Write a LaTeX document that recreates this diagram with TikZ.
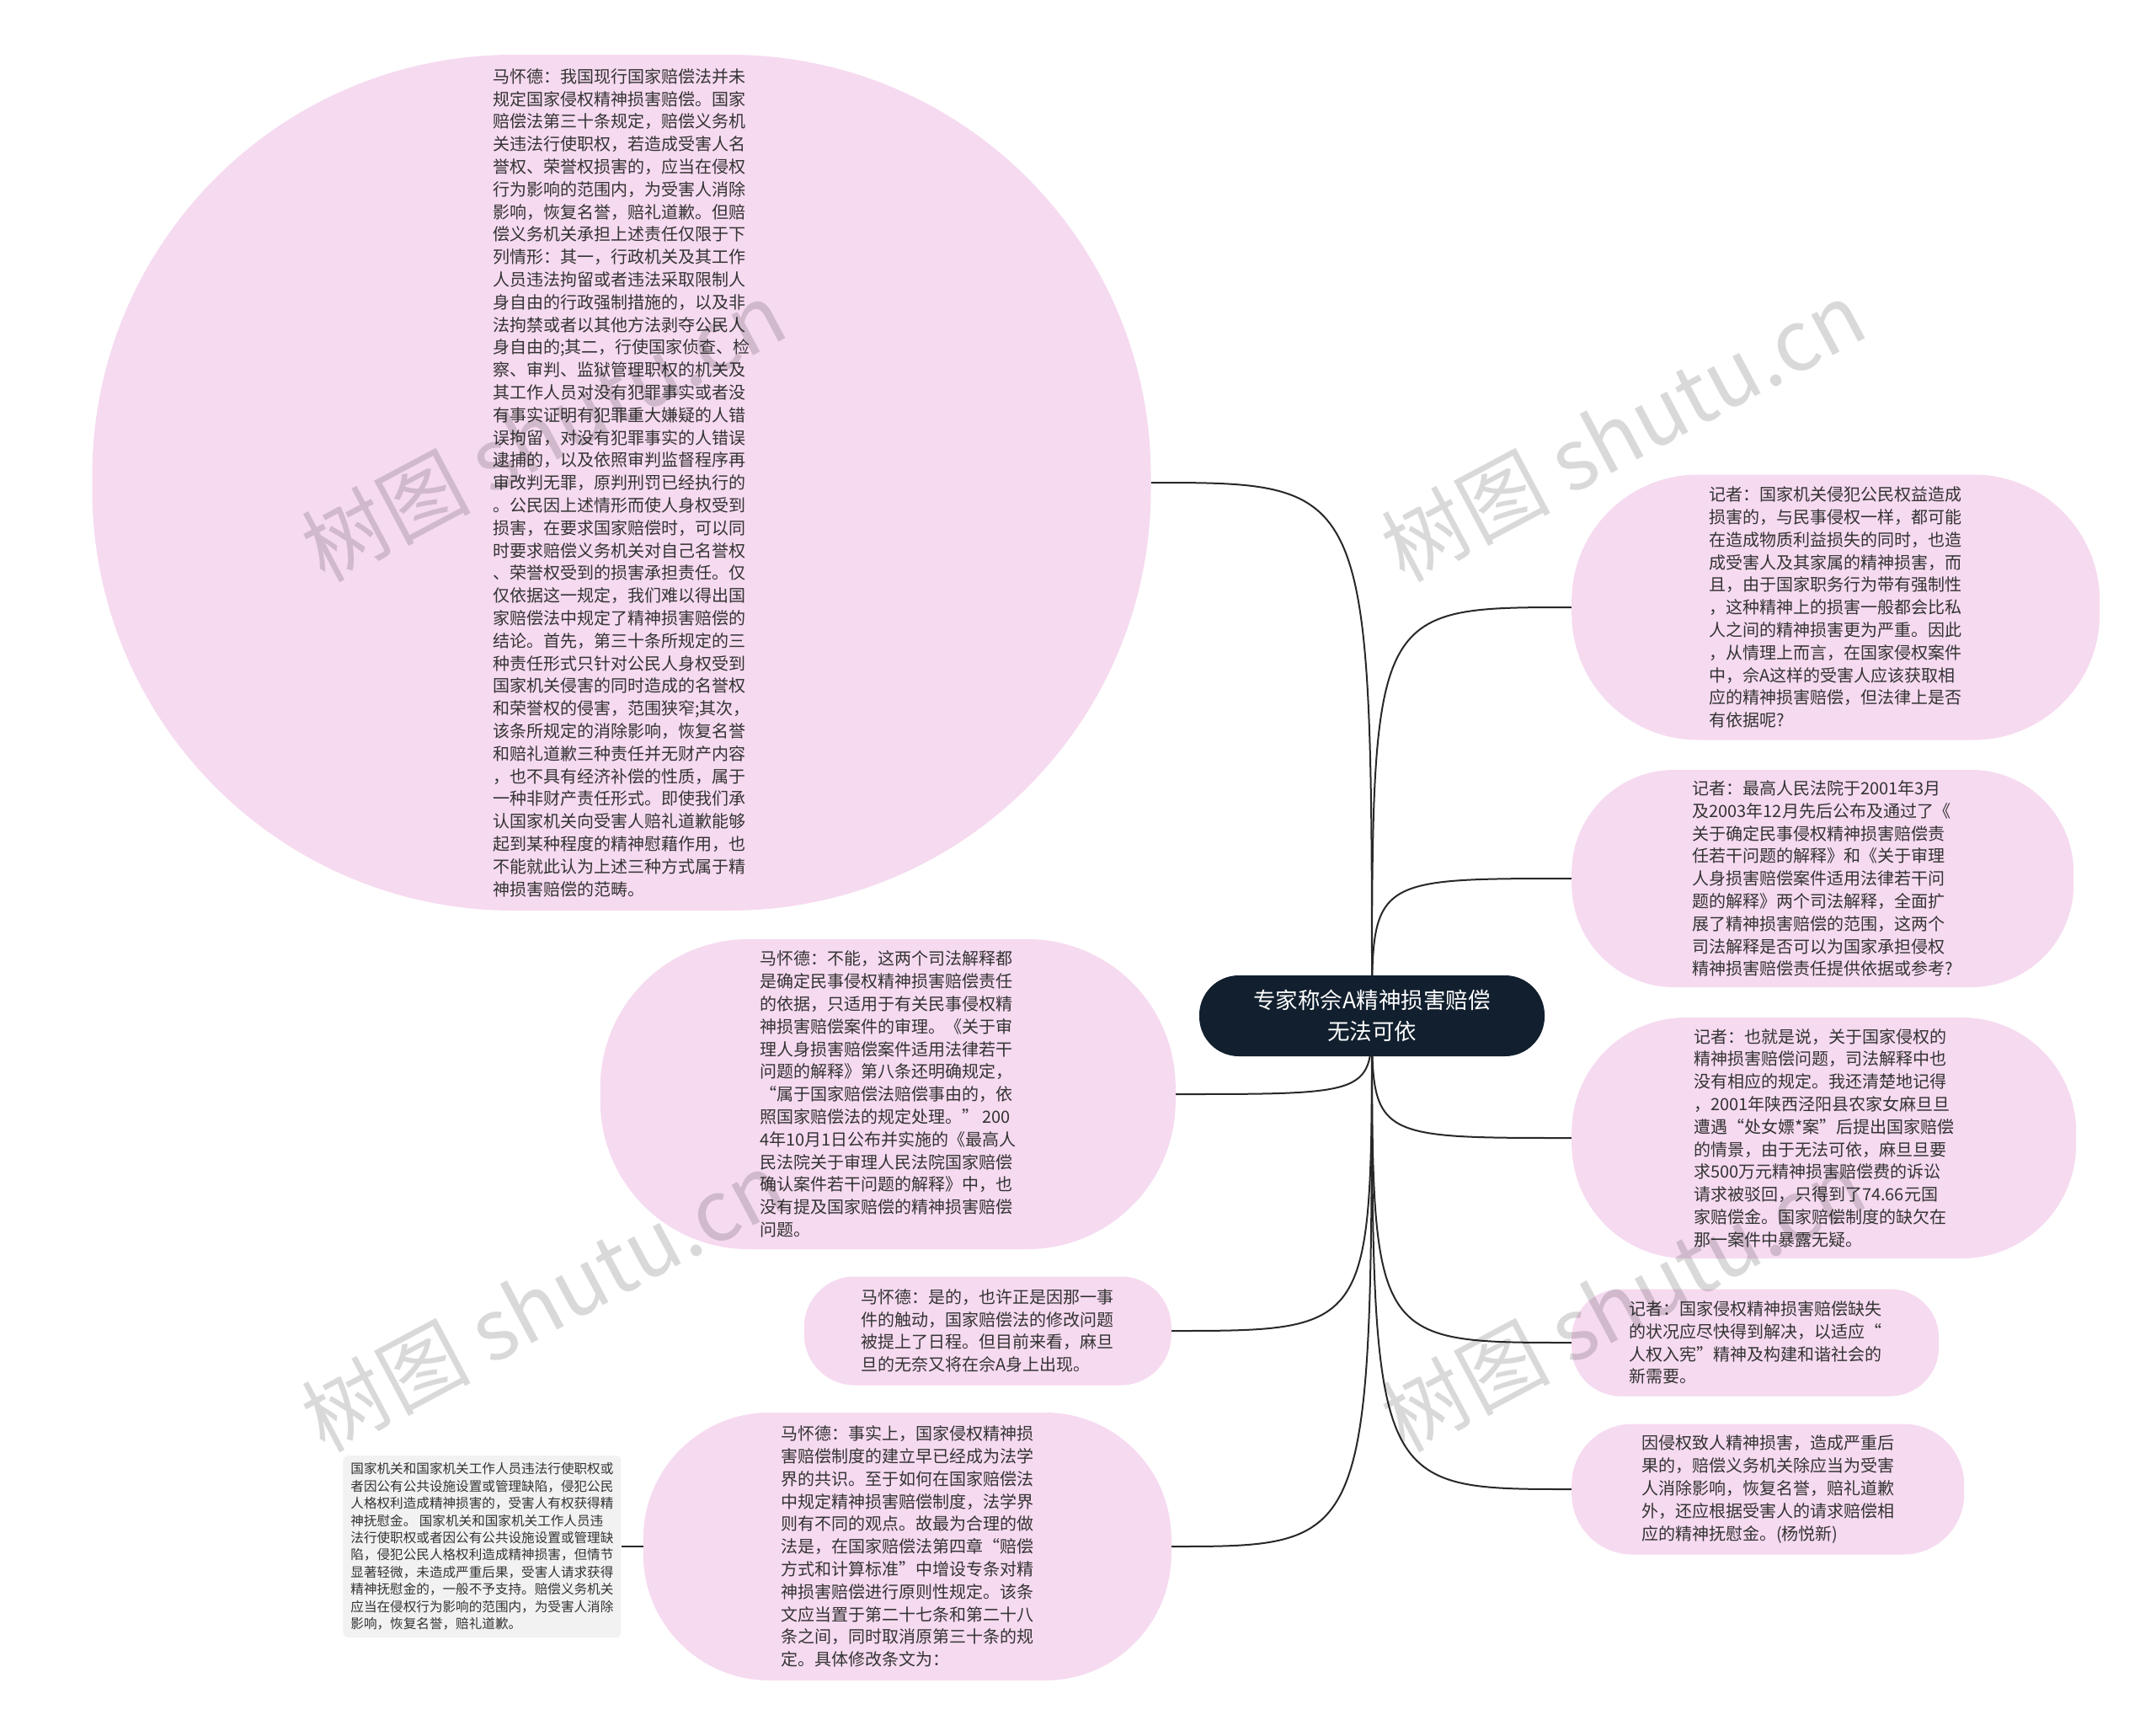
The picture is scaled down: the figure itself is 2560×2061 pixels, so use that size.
\documentclass[tikz,border=0pt]{standalone}
\usepackage{fontspec}
\newfontfamily\cjk{Noto Sans CJK SC}
\usetikzlibrary{positioning,backgrounds}
\definecolor{hubnavy}{RGB}{17,31,46}
\definecolor{leafpink}{RGB}{246,218,240}
\definecolor{notegrey}{RGB}{242,242,242}
\definecolor{inkgrey}{RGB}{51,51,51}
\definecolor{wirecol}{RGB}{40,40,40}

\begin{document}
\begin{tikzpicture}[
   x=1pt, y=-1pt,
   hub/.style={fill=hubnavy, text=white, rounded corners=47pt, align=center,
      minimum width=410pt, minimum height=96pt, inner sep=0pt,
      font=\cjk\fontsize{26.5}{37}\selectfont},
   leaf/.style={fill=leafpink, text=inkgrey, align=left, inner sep=0pt,
      font=\cjk\fontsize{20}{26.8}\selectfont},
   note/.style={fill=notegrey, text=inkgrey, align=left, inner sep=0pt,
      rounded corners=6pt, minimum width=330pt, minimum height=216pt,
      font=\cjk\fontsize{15.6}{20.4}\selectfont},
   branch/.style={draw=wirecol, line width=2pt},
   wmark/.style={text=black, opacity=0.15, rotate=28,
      font=\cjk\fontsize{100}{100}\selectfont}
]
\useasboundingbox (0,0) rectangle (2560,2061);

\node[hub] (hub) at (1629,1206) {专家称佘A精神损害赔偿\\无法可依};

% left side
\node[leaf, minimum width=1257pt, minimum height=1016pt, rounded corners=500pt]
   (law) at (738,573)
   {马怀德：我国现行国家赔偿法并未\\规定国家侵权精神损害赔偿。国家\\赔偿法第三十条规定，赔偿义务机\\关违法行使职权，若造成受害人名\\誉权、荣誉权损害的，应当在侵权\\行为影响的范围内，为受害人消除\\影响，恢复名誉，赔礼道歉。但赔\\偿义务机关承担上述责任仅限于下\\列情形：其一，行政机关及其工作\\人员违法拘留或者违法采取限制人\\身自由的行政强制措施的，以及非\\法拘禁或者以其他方法剥夺公民人\\身自由的;其二，行使国家侦查、检\\察、审判、监狱管理职权的机关及\\其工作人员对没有犯罪事实或者没\\有事实证明有犯罪重大嫌疑的人错\\误拘留，对没有犯罪事实的人错误\\逮捕的，以及依照审判监督程序再\\审改判无罪，原判刑罚已经执行的\\。公民因上述情形而使人身权受到\\损害，在要求国家赔偿时，可以同\\时要求赔偿义务机关对自己名誉权\\、荣誉权受到的损害承担责任。仅\\仅依据这一规定，我们难以得出国\\家赔偿法中规定了精神损害赔偿的\\结论。首先，第三十条所规定的三\\种责任形式只针对公民人身权受到\\国家机关侵害的同时造成的名誉权\\和荣誉权的侵害，范围狭窄;其次，\\该条所规定的消除影响，恢复名誉\\和赔礼道歉三种责任并无财产内容\\，也不具有经济补偿的性质，属于\\一种非财产责任形式。即使我们承\\认国家机关向受害人赔礼道歉能够\\起到某种程度的精神慰藉作用，也\\不能就此认为上述三种方式属于精\\神损害赔偿的范畴。};
\node[leaf, anchor=east, minimum width=683pt, minimum height=368pt, rounded corners=176pt]
   (civil) at (1396,1299)
   {马怀德：不能，这两个司法解释都\\是确定民事侵权精神损害赔偿责任\\的依据，只适用于有关民事侵权精\\神损害赔偿案件的审理。《关于审\\理人身损害赔偿案件适用法律若干\\问题的解释》第八条还明确规定，\\“属于国家赔偿法赔偿事由的，依\\照国家赔偿法的规定处理。” 200\\4年10月1日公布并实施的《最高人\\民法院关于审理人民法院国家赔偿\\确认案件若干问题的解释》中，也\\没有提及国家赔偿的精神损害赔偿\\问题。};
\node[leaf, anchor=east, minimum width=436pt, minimum height=129pt, rounded corners=60pt]
   (reform) at (1391,1580)
   {马怀德：是的，也许正是因那一事\\件的触动，国家赔偿法的修改问题\\被提上了日程。但目前来看，麻旦\\旦的无奈又将在佘A身上出现。};
\node[leaf, anchor=east, minimum width=627pt, minimum height=318pt, rounded corners=150pt]
   (fix) at (1391,1836)
   {马怀德：事实上，国家侵权精神损\\害赔偿制度的建立早已经成为法学\\界的共识。至于如何在国家赔偿法\\中规定精神损害赔偿制度，法学界\\则有不同的观点。故最为合理的做\\法是，在国家赔偿法第四章“赔偿\\方式和计算标准”中增设专条对精\\神损害赔偿进行原则性规定。该条\\文应当置于第二十七条和第二十八\\条之间，同时取消原第三十条的规\\定。具体修改条文为：};
\node[note, left=26pt of fix] (draft)
   {国家机关和国家机关工作人员违法行使职权或\\者因公有公共设施设置或管理缺陷，侵犯公民\\人格权利造成精神损害的，受害人有权获得精\\神抚慰金。 国家机关和国家机关工作人员违\\法行使职权或者因公有公共设施设置或管理缺\\陷，侵犯公民人格权利造成精神损害，但情节\\显著轻微，未造成严重后果，受害人请求获得\\精神抚慰金的，一般不予支持。赔偿义务机关\\应当在侵权行为影响的范围内，为受害人消除\\影响，恢复名誉，赔礼道歉。};

% right side
\node[leaf, anchor=west, minimum width=627pt, minimum height=315pt, rounded corners=150pt]
   (q1) at (1866,721)
   {记者：国家机关侵犯公民权益造成\\损害的，与民事侵权一样，都可能\\在造成物质利益损失的同时，也造\\成受害人及其家属的精神损害，而\\且，由于国家职务行为带有强制性\\，这种精神上的损害一般都会比私\\人之间的精神损害更为严重。因此\\，从情理上而言，在国家侵权案件\\中，佘A这样的受害人应该获取相\\应的精神损害赔偿，但法律上是否\\有依据呢?};
\node[leaf, anchor=west, minimum width=596pt, minimum height=258pt, rounded corners=122pt]
   (q2) at (1866,1043)
   {记者：最高人民法院于2001年3月\\及2003年12月先后公布及通过了《\\关于确定民事侵权精神损害赔偿责\\任若干问题的解释》和《关于审理\\人身损害赔偿案件适用法律若干问\\题的解释》两个司法解释，全面扩\\展了精神损害赔偿的范围，这两个\\司法解释是否可以为国家承担侵权\\精神损害赔偿责任提供依据或参考?};
\node[leaf, anchor=west, minimum width=599pt, minimum height=286pt, rounded corners=136pt]
   (q3) at (1866,1351)
   {记者：也就是说，关于国家侵权的\\精神损害赔偿问题，司法解释中也\\没有相应的规定。我还清楚地记得\\，2001年陕西泾阳县农家女麻旦旦\\遭遇“处女嫖*案”后提出国家赔偿\\的情景，由于无法可依，麻旦旦要\\求500万元精神损害赔偿费的诉讼\\请求被驳回，只得到了74.66元国\\家赔偿金。国家赔偿制度的缺欠在\\那一案件中暴露无疑。};
\node[leaf, anchor=west, minimum width=436pt, minimum height=127pt, rounded corners=58pt]
   (q4) at (1866,1594)
   {记者：国家侵权精神损害赔偿缺失\\的状况应尽快得到解决，以适应“\\人权入宪”精神及构建和谐社会的\\新需要。};
\node[leaf, anchor=west, minimum width=466pt, minimum height=155pt, rounded corners=72pt]
   (close) at (1866,1768)
   {因侵权致人精神损害，造成严重后\\果的，赔偿义务机关除应当为受害\\人消除影响，恢复名誉，赔礼道歉\\外，还应根据受害人的请求赔偿相\\应的精神抚慰金。(杨悦新)};

\begin{scope}[on background layer]
\fill[white] (0,0) rectangle (2560,2061);
\foreach \leafname in {law,civil,reform,fix}
   \draw[branch] (hub.center) .. controls (hub.center |- \leafname.east) .. (\leafname.east);
\foreach \leafname in {q1,q2,q3,q4,close}
   \draw[branch] (hub.center) .. controls (hub.center |- \leafname.west) .. (\leafname.west);
\end{scope}
\draw[branch] (fix.west) -- (draft.east);

% watermarks
\node[wmark] (wm1) at (645,512) {树图 shutu.cn};
\node[wmark] (wm2) at (1927,512) {树图 shutu.cn};
\node[wmark] (wm3) at (645,1545) {树图 shutu.cn};
\node[wmark] (wm4) at (1927,1545) {树图 shutu.cn};
\end{tikzpicture}
\end{document}
